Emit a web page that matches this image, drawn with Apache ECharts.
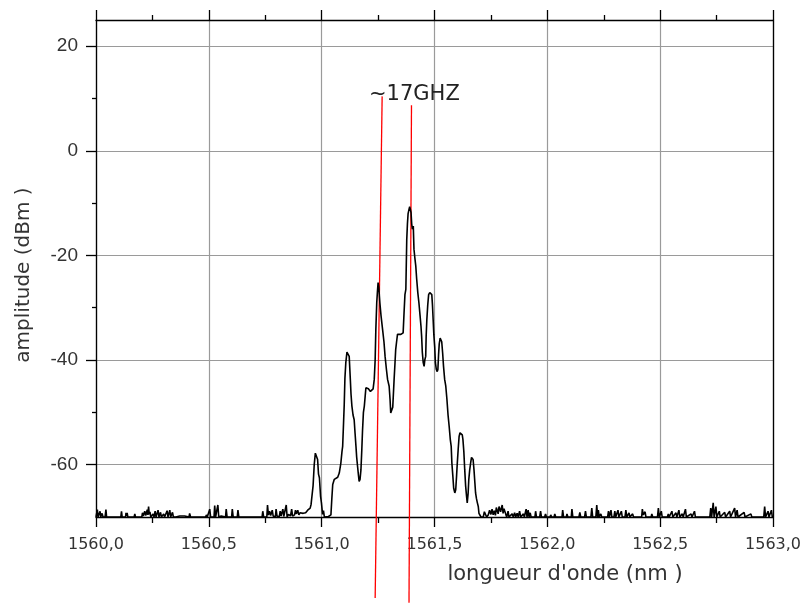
<!DOCTYPE html>
<html>
<head>
<meta charset="utf-8">
<script src="https://cdn.jsdelivr.net/npm/echarts@6/dist/echarts.min.js"></script>
<style>
html,body{margin:0;padding:0;background:#fff;}
#chart{width:804px;height:603px;}
</style>
</head>
<body>
<div id="chart"></div>
<script>
// ---- data (wavelength nm, amplitude dBm) ----
const noiseLeft = [
[1560.000,-70.0],[1560.004,-70.0],[1560.006,-68.6],[1560.009,-70.0],[1560.014,-70.0],[1560.018,-68.9],[1560.021,-70.0],[1560.027,-69.3],[1560.031,-70.0],[1560.040,-70.0],[1560.044,-68.6],[1560.047,-70.0],[1560.085,-70.0],[1560.088,-69.7],[1560.091,-70.0],[1560.110,-70.0],[1560.113,-68.9],[1560.116,-70.0],[1560.131,-70.0],[1560.133,-69.2],[1560.136,-69.8],[1560.138,-69.2],[1560.141,-70.0],[1560.169,-70.0],[1560.172,-69.4],[1560.175,-70.0],[1560.203,-70.0],[1560.206,-69.2],[1560.210,-69.8],[1560.216,-68.9],[1560.221,-69.7],[1560.227,-68.6],[1560.230,-69.6],[1560.233,-68.0],[1560.236,-69.5],[1560.239,-69.0],[1560.243,-70.0],[1560.250,-70.0],[1560.253,-69.4],[1560.257,-70.0],[1560.262,-68.9],[1560.266,-70.0],[1560.272,-70.0],[1560.275,-68.7],[1560.279,-70.0],[1560.286,-69.1],[1560.290,-70.0],[1560.297,-70.0],[1560.300,-69.4],[1560.304,-70.0],[1560.312,-70.0],[1560.315,-68.8],[1560.319,-70.0],[1560.324,-70.0],[1560.327,-68.7],[1560.331,-70.0],[1560.336,-70.0],[1560.339,-69.1],[1560.343,-70.0],[1560.350,-69.8],[1560.354,-70.0],[1560.371,-69.8],[1560.375,-70.0],[1560.393,-69.8],[1560.397,-70.0],[1560.412,-70.0],[1560.415,-69.3],[1560.419,-70.0],[1560.486,-70.0],[1560.489,-69.6],[1560.493,-70.0],[1560.501,-70.0],[1560.504,-68.5],[1560.508,-70.0],[1560.523,-70.0],[1560.526,-67.8],[1560.530,-70.0],[1560.537,-70.0],[1560.540,-67.7],[1560.544,-70.0],[1560.555,-69.8],[1560.574,-70.0],[1560.577,-68.5],[1560.581,-70.0],[1560.601,-70.0],[1560.604,-68.5],[1560.608,-70.0],[1560.626,-70.0],[1560.629,-68.7],[1560.633,-70.0],[1560.714,-70.0],[1560.717,-69.8],[1560.721,-70.0],[1560.736,-70.0],[1560.739,-68.9],[1560.743,-70.0],[1560.757,-70.0],[1560.760,-67.7],[1560.764,-69.6],[1560.769,-68.9],[1560.774,-69.7],[1560.781,-68.7],[1560.785,-69.8],[1560.790,-69.5],[1560.795,-70.0],[1560.798,-68.5],[1560.802,-69.8],[1560.808,-69.6],[1560.812,-70.0],[1560.816,-68.9],[1560.820,-69.8],[1560.825,-70.0],[1560.828,-68.5],[1560.832,-69.9],[1560.839,-70.0],[1560.843,-67.7],[1560.847,-70.0],[1560.853,-69.5],[1560.857,-69.2],[1560.862,-69.8],[1560.867,-68.5],[1560.871,-69.8],[1560.880,-69.6],[1560.884,-68.7],[1560.888,-69.4],[1560.894,-68.7],[1560.899,-69.6],[1560.904,-69.2],[1560.910,-69.5],[1560.918,-69.3],[1560.923,-69.0],[1560.929,-69.2],[1560.933,-69.0],[1560.938,-68.7],[1560.943,-68.9],[1560.949,-68.3],[1560.953,-67.6]
];
const peakRegion = [
[1560.957,-67.3],[1560.962,-64.0],[1560.967,-60.0],[1560.972,-57.8],[1560.977,-58.0],[1560.982,-59.0],[1560.986,-61.8],[1560.990,-62.5],[1560.995,-66.0],[1560.999,-67.3],[1561.004,-69.5],[1561.008,-68.8],[1561.012,-70.0],[1561.020,-70.0],[1561.030,-69.9],[1561.037,-70.0],[1561.041,-69.6],
[1561.045,-66.5],[1561.049,-63.8],[1561.056,-62.8],[1561.063,-62.6],[1561.071,-62.4],[1561.078,-61.6],[1561.085,-59.7],[1561.090,-57.5],[1561.093,-56.5],[1561.097,-52.0],[1561.100,-48.5],[1561.103,-43.5],[1561.107,-40.5],[1561.112,-38.5],[1561.115,-38.3],[1561.119,-38.8],[1561.122,-39.3],[1561.127,-43.7],[1561.130,-46.5],[1561.134,-48.8],[1561.139,-50.5],[1561.144,-51.4],[1561.148,-54.0],[1561.152,-56.5],[1561.155,-58.5],[1561.159,-60.3],[1561.163,-62.0],[1561.166,-63.2],[1561.170,-62.8],[1561.174,-61.0],[1561.178,-57.0],[1561.181,-53.5],[1561.185,-50.0],[1561.189,-48.8],[1561.193,-46.8],[1561.196,-45.3],[1561.200,-45.0],[1561.203,-45.3],[1561.207,-45.5],[1561.211,-45.6],[1561.216,-46.0],[1561.222,-46.3],[1561.228,-45.5],[1561.233,-43.7],[1561.237,-40.0],[1561.240,-34.2],[1561.244,-29.1],[1561.247,-27.0],[1561.250,-25.2],[1561.253,-26.0],[1561.258,-29.1],[1561.263,-31.5],[1561.270,-34.2],[1561.276,-36.5],[1561.281,-39.3],[1561.287,-41.8],[1561.292,-43.7],[1561.299,-45.0],[1561.303,-47.5],[1561.306,-50.1],[1561.311,-50.4],[1561.315,-49.0],[1561.321,-43.7],[1561.325,-40.5],[1561.328,-38.0],[1561.332,-36.5],[1561.336,-35.1],[1561.343,-35.0],[1561.351,-35.1],[1561.356,-34.9],[1561.361,-34.8],[1561.365,-31.0],[1561.369,-27.5],[1561.373,-26.5],[1561.377,-17.0],[1561.380,-14.0],[1561.383,-12.0],[1561.387,-11.2],[1561.390,-10.7],[1561.393,-11.2],[1561.396,-11.8],[1561.399,-14.0],[1561.402,-15.0],[1561.406,-14.4],[1561.409,-18.8],[1561.413,-20.5],[1561.417,-22.0],[1561.421,-24.5],[1561.426,-27.1],[1561.431,-29.1],[1561.436,-31.5],[1561.440,-33.5],[1561.443,-35.5],[1561.446,-38.5],[1561.450,-40.5],[1561.454,-41.2],[1561.457,-40.0],[1561.461,-39.3],[1561.463,-35.5],[1561.466,-32.3],[1561.470,-29.5],[1561.474,-27.5],[1561.479,-27.1],[1561.484,-27.3],[1561.488,-27.5],[1561.491,-29.5],[1561.494,-32.3],[1561.497,-35.1],[1561.501,-37.5],[1561.504,-40.5],[1561.508,-41.8],[1561.512,-42.2],[1561.515,-41.8],[1561.518,-39.0],[1561.521,-36.9],[1561.525,-35.8],[1561.528,-36.1],[1561.532,-36.5],[1561.536,-38.6],[1561.540,-41.2],[1561.545,-43.7],[1561.550,-45.0],[1561.555,-47.5],[1561.560,-50.5],[1561.565,-52.7],[1561.570,-55.2],[1561.574,-56.5],[1561.577,-59.7],[1561.581,-62.0],[1561.585,-64.5],[1561.590,-65.4],[1561.594,-64.8],[1561.598,-62.0],[1561.601,-59.7],[1561.605,-57.0],[1561.609,-54.6],[1561.613,-53.9],[1561.619,-53.9],[1561.623,-54.3],[1561.626,-55.2],[1561.630,-57.5],[1561.634,-61.0],[1561.638,-64.1],[1561.642,-66.0],[1561.645,-67.3],[1561.649,-65.5],[1561.652,-62.8],[1561.656,-61.0],[1561.660,-59.7],[1561.664,-58.6],[1561.667,-58.4],[1561.671,-59.0],[1561.675,-61.0],[1561.679,-63.5],[1561.682,-65.4],[1561.686,-66.5],[1561.690,-67.3],[1561.694,-68.0],[1561.697,-69.3],[1561.701,-69.0],[1561.706,-70.0]
];
const noiseRight = [
[1561.711,-69.9],[1561.716,-70.0],[1561.721,-69.0],[1561.726,-69.3],[1561.731,-70.0],[1561.738,-69.6],[1561.744,-68.7],[1561.750,-69.5],[1561.755,-68.5],[1561.760,-69.6],[1561.765,-68.8],[1561.770,-69.7],[1561.774,-68.2],[1561.778,-68.5],[1561.782,-69.4],[1561.786,-68.0],[1561.789,-68.0],[1561.793,-69.0],[1561.797,-68.2],[1561.800,-67.7],[1561.804,-69.3],[1561.808,-68.4],[1561.812,-68.3],[1561.816,-69.5],[1561.820,-70.0],[1561.826,-68.9],[1561.830,-70.0],[1561.838,-70.0],[1561.844,-69.4],[1561.849,-70.0],[1561.855,-69.2],[1561.860,-70.0],[1561.866,-69.3],[1561.871,-70.0],[1561.877,-68.9],[1561.882,-70.0],[1561.890,-70.0],[1561.894,-69.4],[1561.898,-70.0],[1561.906,-68.5],[1561.910,-70.0],[1561.915,-68.7],[1561.919,-70.0],[1561.924,-69.2],[1561.928,-70.0],[1561.945,-70.0],[1561.948,-68.9],[1561.952,-70.0],[1561.966,-70.0],[1561.970,-68.9],[1561.974,-70.0],[1561.988,-70.0],[1561.992,-69.4],[1561.996,-70.0],[1562.012,-70.0],[1562.015,-69.6],[1562.019,-70.0],[1562.030,-70.0],[1562.033,-69.4],[1562.037,-70.0],[1562.065,-70.0],[1562.068,-68.7],[1562.072,-70.0],[1562.084,-70.0],[1562.087,-69.4],[1562.091,-70.0],[1562.106,-70.0],[1562.109,-68.5],[1562.113,-70.0],[1562.140,-70.0],[1562.144,-69.1],[1562.148,-70.0],[1562.165,-70.0],[1562.169,-68.9],[1562.173,-70.0],[1562.193,-70.0],[1562.197,-68.3],[1562.201,-70.0],[1562.215,-70.0],[1562.219,-67.7],[1562.223,-70.0],[1562.226,-68.7],[1562.230,-70.0],[1562.237,-69.4],[1562.241,-70.0],[1562.267,-70.0],[1562.271,-68.9],[1562.275,-70.0],[1562.282,-68.7],[1562.286,-70.0],[1562.295,-70.0],[1562.299,-68.9],[1562.303,-70.0],[1562.313,-68.7],[1562.317,-70.0],[1562.328,-68.9],[1562.332,-70.0],[1562.344,-70.0],[1562.348,-68.7],[1562.352,-70.0],[1562.362,-69.2],[1562.366,-70.0],[1562.378,-69.4],[1562.382,-70.0],[1562.418,-70.0],[1562.421,-68.5],[1562.425,-69.6],[1562.433,-69.0],[1562.437,-70.0],[1562.460,-70.0],[1562.463,-69.4],[1562.467,-70.0],[1562.488,-70.0],[1562.492,-68.3],[1562.496,-70.0],[1562.505,-68.9],[1562.509,-70.0],[1562.532,-70.0],[1562.536,-69.4],[1562.540,-70.0],[1562.552,-68.9],[1562.556,-70.0],[1562.570,-69.2],[1562.574,-70.0],[1562.583,-68.7],[1562.587,-70.0],[1562.598,-69.4],[1562.602,-70.0],[1562.612,-68.5],[1562.616,-70.0],[1562.637,-69.4],[1562.641,-70.0],[1562.652,-68.9],[1562.656,-70.0],[1562.720,-70.0],[1562.724,-68.3],[1562.728,-70.0],[1562.735,-67.3],[1562.739,-70.0],[1562.747,-68.0],[1562.751,-70.0],[1562.762,-68.9],[1562.766,-70.0],[1562.786,-69.1],[1562.790,-70.0],[1562.808,-68.9],[1562.812,-70.0],[1562.830,-68.3],[1562.834,-70.0],[1562.841,-68.7],[1562.845,-70.0],[1562.872,-69.1],[1562.876,-70.0],[1562.902,-69.4],[1562.906,-70.0],[1562.959,-70.0],[1562.963,-68.0],[1562.967,-70.0],[1562.978,-68.9],[1562.982,-70.0],[1562.990,-70.0],[1562.993,-68.7],[1562.997,-70.0],[1563.000,-70.0]
];
// red marker lines (endpoints in data units, extending beyond the plot)
const markerLineA = [[1561.268, 10.4], [1561.237, -85.5]];
const markerLineB = [[1561.398, 8.7], [1561.387, -86.4]];
const annotationText = '~17GHZ';
const xTitle = "longueur d'onde (nm )";
const yTitle = 'amplitude (dBm )';
const yTickValues = [-60, -40, -20, 0, 20];
const yMinorTickValues = [-50, -30, -10, 10];
const xRange = [1560, 1563];
const yRange = [-70, 25];

const chart = echarts.init(document.getElementById('chart'), null, {renderer: 'canvas'});
const trace = noiseLeft.concat(peakRegion, noiseRight);
const axisBlack = {color: '#000', width: 1.3};
const gridGray = {color: '#9a9a9a', width: 1.2};

chart.setOption({
  animation: false,
  backgroundColor: '#fff',
  grid: {left: 96, right: 29, top: 20, bottom: 86, containLabel: false},
  xAxis: [
    {type: 'value', min: xRange[0], max: xRange[1], interval: 0.5, position: 'bottom',
     axisLine: {show: true, onZero: false, lineStyle: axisBlack},
     axisTick: {show: true, length: 10, lineStyle: axisBlack},
     minorTick: {show: true, splitNumber: 2, length: 6, lineStyle: axisBlack},
     splitLine: {show: true, lineStyle: gridGray},
     axisLabel: {show: true, margin: 20, color: '#333', fontFamily: 'DejaVu Sans', fontSize: 16,
       formatter: v => v.toFixed(1).replace('.', ','), showMinLabel: true, showMaxLabel: true}},
    {type: 'value', min: xRange[0], max: xRange[1], interval: 0.5, position: 'top',
     axisLine: {show: true, onZero: false, lineStyle: axisBlack},
     axisTick: {show: true, length: 10, lineStyle: axisBlack},
     minorTick: {show: true, splitNumber: 2, length: 5, lineStyle: axisBlack},
     splitLine: {show: false}, axisLabel: {show: false}}
  ],
  yAxis: [
    {type: 'value', min: yRange[0], max: yRange[1], position: 'left',
     axisLine: {show: true, onZero: false, lineStyle: axisBlack},
     axisTick: {show: true, length: 10, customValues: yTickValues, lineStyle: axisBlack},
     splitLine: {show: true, lineStyle: gridGray},
     axisLabel: {show: true, customValues: yTickValues, margin: 18, color: '#333',
       fontFamily: 'Liberation Sans', fontSize: 19}},
    {type: 'value', min: yRange[0], max: yRange[1], position: 'right',
     axisLine: {show: true, onZero: false, lineStyle: axisBlack},
     axisTick: {show: false}, splitLine: {show: false}, axisLabel: {show: false}},
    {type: 'value', min: yRange[0], max: yRange[1], position: 'left', offset: 0,
     axisLine: {show: false},
     axisTick: {show: true, length: 4, customValues: yMinorTickValues, lineStyle: axisBlack},
     splitLine: {show: false}, axisLabel: {show: false, customValues: yMinorTickValues}}
  ],
  series: [
    {type: 'line', data: markerLineA, xAxisIndex: 0, yAxisIndex: 0, clip: false,
     showSymbol: false, symbol: 'none', lineStyle: {color: '#ff0000', width: 1.3}, z: 2, silent: true},
    {type: 'line', data: markerLineB, xAxisIndex: 0, yAxisIndex: 0, clip: false,
     showSymbol: false, symbol: 'none', lineStyle: {color: '#ff0000', width: 1.3}, z: 2, silent: true},
    {type: 'line', data: trace, xAxisIndex: 0, yAxisIndex: 0, showSymbol: false, symbol: 'none',
     sampling: null, lineStyle: {color: '#000', width: 1.6}, z: 3}
  ],
  graphic: [
    {type: 'text', x: 369, y: 95, z: 10,
     style: {text: annotationText, font: '21px "DejaVu Sans"', fill: '#222',
       align: 'left', verticalAlign: 'middle', textAlign: 'left', textVerticalAlign: 'middle'}},
    {type: 'text', x: 565, y: 575, z: 10,
     style: {text: xTitle, font: '21px "DejaVu Sans"', fill: '#333',
       align: 'center', verticalAlign: 'middle', textAlign: 'center', textVerticalAlign: 'middle'}},
    {type: 'text', x: 24, y: 275, rotation: Math.PI / 2, z: 10,
     style: {text: yTitle, font: '20px "DejaVu Sans"', fill: '#333',
       align: 'center', verticalAlign: 'middle', textAlign: 'center', textVerticalAlign: 'middle'}}
  ]
});
</script>
</body>
</html>
